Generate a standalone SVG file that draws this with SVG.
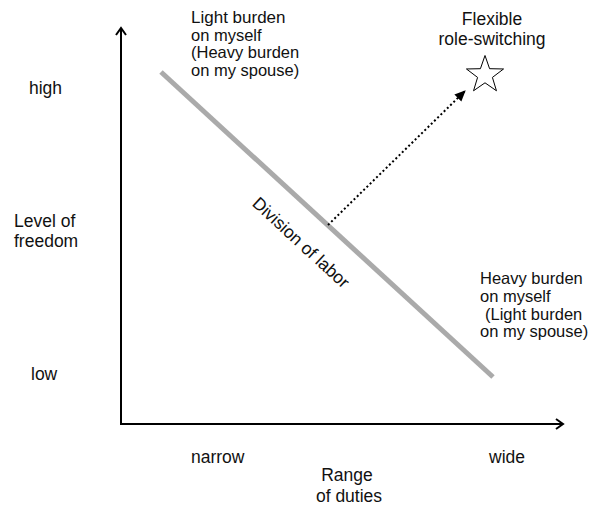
<svg xmlns="http://www.w3.org/2000/svg" width="590" height="505" viewBox="0 0 590 505">
<style>
text{font-family:"Liberation Sans",Arial,sans-serif;fill:#111;font-size:16.5px}
.c{text-anchor:middle}
.f{font-size:17.5px}
</style>
<defs>
<marker id="open" markerWidth="12" markerHeight="12" refX="9" refY="6" orient="auto" markerUnits="userSpaceOnUse">
<path d="M2,1 L9,6 L2,11" fill="none" stroke="#000" stroke-width="2"/>
</marker>
<marker id="fill" markerWidth="12" markerHeight="12" refX="10" refY="6" orient="auto" markerUnits="userSpaceOnUse">
<path d="M0,1 L11,6 L0,11 Z" fill="#000"/>
</marker>
</defs>
<rect width="590" height="505" fill="#fff"/>
<g id="connectors">
<line id="y-axis" x1="121" y1="424" x2="121" y2="28" stroke="#000" stroke-width="2" marker-end="url(#open)"/>
<line id="x-axis" x1="120" y1="424" x2="563" y2="424" stroke="#000" stroke-width="2" marker-end="url(#open)"/>
<line id="division" x1="161" y1="72" x2="493" y2="377" stroke="#aaa" stroke-width="5"/>
<line id="dotted" x1="328" y1="225" x2="465" y2="91" stroke="#000" stroke-width="2" stroke-dasharray="2 2.5" marker-end="url(#fill)"/>
</g>
<g id="star">
<polygon points="485,55.5 489.58,68.69 503.55,68.97 492.42,77.41 496.46,90.78 485,82.8 473.54,90.78 477.58,77.41 466.45,68.97 480.42,68.69" fill="#fff" stroke="#000" stroke-width="1"/>
</g>
<g id="label-top">
<text x="191" y="23" style="font-size:17px">Light burden</text>
<text x="191" y="40.5">on myself</text>
<text x="191" y="58">(Heavy burden</text>
<text x="191" y="75.5">on my spouse)</text>
</g>
<g id="label-flexible">
<text class="c f" x="492" y="25">Flexible</text>
<text class="c f" x="492" y="45">role-switching</text>
</g>
<g id="label-bottom-right">
<text x="480" y="284">Heavy burden</text>
<text x="480" y="302">on myself</text>
<text x="485" y="319.5">(Light burden</text>
<text x="480" y="337">on my spouse)</text>
</g>
<g id="y-labels">
<text x="29" y="94" class="f">high</text>
<text x="14" y="227" class="f">Level of</text>
<text x="14" y="247" class="f">freedom</text>
<text x="31" y="380" class="f">low</text>
</g>
<g id="x-labels">
<text x="191" y="463" class="f">narrow</text>
<text x="489" y="463" class="f">wide</text>
<text class="c f" x="347" y="481">Range</text>
<text class="c f" x="349" y="502">of duties</text>
</g>
<text class="c" style="font-size:17.5px" x="0" y="0" transform="translate(297,247) rotate(42.6)">Division of labor</text>
</svg>
